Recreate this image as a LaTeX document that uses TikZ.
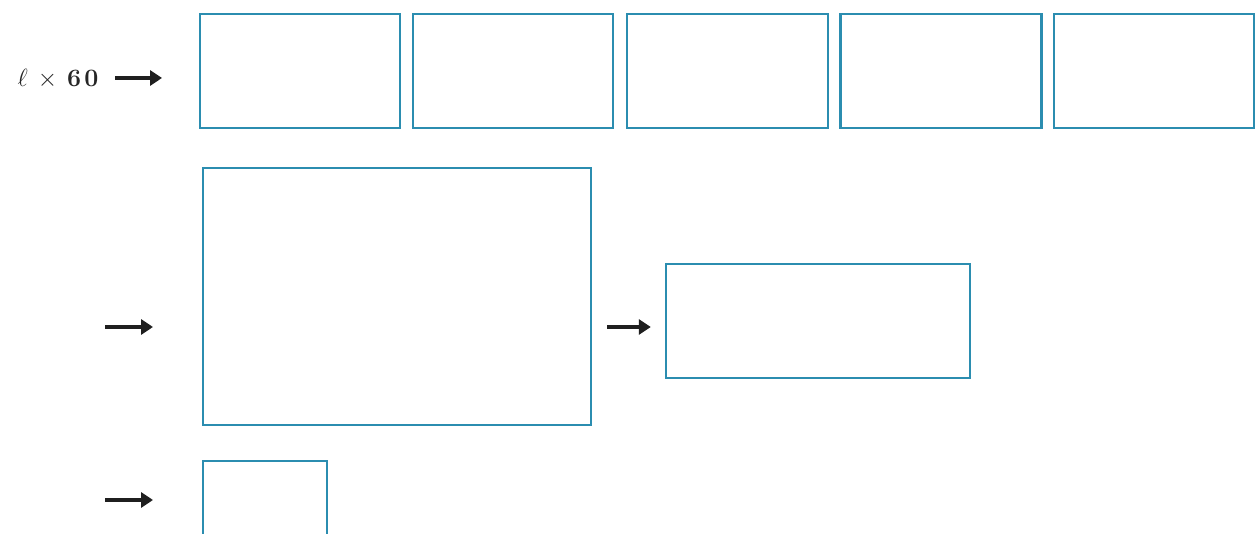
\documentclass[tikz,border=0pt]{standalone}
\usetikzlibrary{arrows.meta}
\begin{document}
\begin{tikzpicture}[x=1pt,y=-1pt,
  box/.style={draw=boxblue,line width=2.4pt,fill=white,inner sep=0pt},
  arr/.style={line width=4pt,-{Triangle[length=12pt,width=15pt]},black!88}]
\definecolor{boxblue}{HTML}{2B8DB0}
\useasboundingbox (0,0) rectangle (1256,534);
\clip (0,0) rectangle (1256,534);
\fill[white] (0,0) rectangle (1256,534);
% row 1
\node[box,minimum width=200pt,minimum height=114pt] (r1) at (300,71) {};
\node[box,minimum width=200pt,minimum height=114pt] (r2) at (513,71) {};
\node[box,minimum width=201pt,minimum height=114pt] (r3) at (727.5,71) {};
\node[box,minimum width=201pt,minimum height=114pt] (r4) at (941,71) {};
\node[box,minimum width=200pt,minimum height=114pt] (r5) at (1154,71) {};
\node[font=\fontsize{25}{25}\selectfont,inner sep=0pt,text=black!85] (lab) at (58,79) {$\ell$\hspace{10pt}$\times$\hspace{10pt}\textbf{6}\hspace{3pt}\textbf{0}};
\coordinate (a1e) at (162,78);
\draw[arr] (115,78) coordinate (a1s) -- (a1e);
% row 2
\node[box,minimum width=388pt,minimum height=257pt] (b2) at (397,296.5) {};
\node[box,minimum width=304pt,minimum height=114pt] (b3) at (818,321) {};
\coordinate (a2s) at (105,327);
\coordinate (a2e) at (153,327);
\draw[arr] (a2s) -- (a2e);
\draw[arr,shorten <=15pt,shorten >=14pt] (b2.east |- 0,327) -- (b3.west |- 0,327);
% row 3
\node[box,minimum width=124pt,minimum height=120pt] (b4) at (265,521) {};
\coordinate (a3s) at (105,500);
\coordinate (a3e) at (153,500);
\draw[arr] (a3s) -- (a3e);
\end{tikzpicture}
\end{document}
